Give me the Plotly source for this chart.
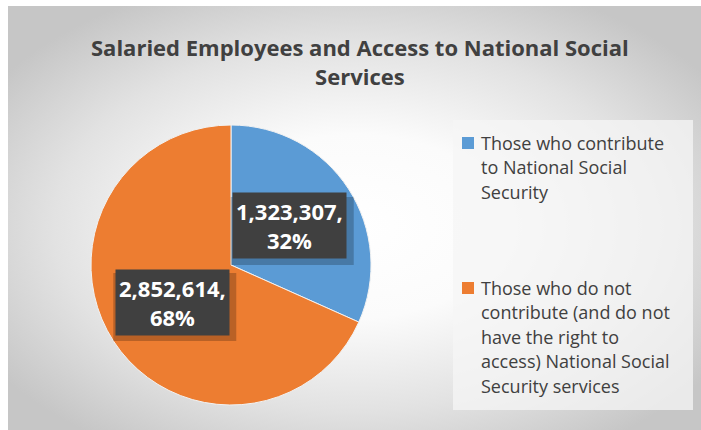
import base64
import math
import plotly.graph_objects as go

# Chart data
categories = [
    "Those who contribute to National Social Security",
    "Those who do not contribute (and do not have the right to access) National Social Security services",
]
legend_lines = [
    ["Those who contribute", "to National Social", "Security"],
    ["Those who do not", "contribute (and do not", "have the right to",
     "access) National Social", "Security services"],
]
values = [1323307, 2852614]
colors = ["#5B9BD5", "#ED7D31"]
title_text = "Salaried Employees and Access to National Social<br>Services"

W, H = 701, 430
FONT = "Open Sans"

# Pie geometry in pixels
pie_cx, pie_cy, pie_r = 231, 265, 140


def px(x):
    return x / W


def py(y):
    return 1 - y / H


# Radial gradient background for the chart area
svg = f"""<svg xmlns='http://www.w3.org/2000/svg' width='{W}' height='{H}' viewBox='0 0 {W} {H}' preserveAspectRatio='none'>
<defs><radialGradient id='g' cx='0.5' cy='0.52' r='0.62' gradientUnits='objectBoundingBox'>
<stop offset='0' stop-color='#ffffff'/>
<stop offset='0.35' stop-color='#fbfbfb'/>
<stop offset='0.7' stop-color='#e2e2e2'/>
<stop offset='1' stop-color='#c6c6c6'/>
</radialGradient></defs>
<rect x='0' y='0' width='{W}' height='{H}' fill='url(#g)'/>
</svg>"""
bg_src = "data:image/svg+xml;base64," + base64.b64encode(svg.encode()).decode()

fig = go.Figure()
fig.add_trace(
    go.Pie(
        labels=categories,
        values=values,
        marker=dict(colors=colors, line=dict(color="#f2f2f2", width=1)),
        sort=False,
        direction="clockwise",
        rotation=0,
        textinfo="none",
        hoverinfo="label+value+percent",
        showlegend=False,
        domain=dict(x=[px(pie_cx - pie_r), px(pie_cx + pie_r)],
                    y=[py(pie_cy + pie_r), py(pie_cy - pie_r)]),
    )
)

shapes = []
annotations = []

# Data labels: dark boxes at half radius along each slice's mid-angle
total = sum(values)
start = 0.0
for v in values:
    frac = v / total
    mid = (start + frac / 2) * 2 * math.pi
    start += frac
    lx = pie_cx + 0.5 * pie_r * math.sin(mid)
    ly = pie_cy - 0.5 * pie_r * math.cos(mid)
    pct = round(frac * 100)
    # soft shadow behind the label box
    shapes.append(dict(type="rect", xref="paper", yref="paper",
                       x0=px(lx - 59), x1=px(lx + 64), y0=py(ly + 38), y1=py(ly - 30),
                       fillcolor="rgba(0,0,0,0.22)", line=dict(width=0), layer="above"))
    annotations.append(dict(
        x=px(lx), y=py(ly - 1), xref="paper", yref="paper",
        text=f"<b>{v:,},<br>{pct}%</b>", showarrow=False,
        font=dict(family=FONT, size=22, color="white"),
        bgcolor="#404040", borderpad=3, align="center",
        xanchor="center", yanchor="middle",
    ))

# Legend panel
shapes.append(dict(type="rect", xref="paper", yref="paper",
                   x0=px(453), x1=px(693), y0=py(410), y1=py(120),
                   fillcolor="rgba(245,245,245,0.75)", line=dict(width=0), layer="below"))
legend_tops = [143, 288]
line_step = 24.4
for top, lines, col in zip(legend_tops, legend_lines, colors):
    shapes.append(dict(type="rect", xref="paper", yref="paper",
                       x0=px(462), x1=px(474), y0=py(top + 6), y1=py(top - 6),
                       fillcolor=col, line=dict(width=0)))
    for i, line in enumerate(lines):
        annotations.append(dict(
            x=px(479), y=py(top + i * line_step), xref="paper", yref="paper",
            text=line, showarrow=False, align="left",
            xanchor="left", yanchor="middle",
            font=dict(family=FONT, size=18, color="#404040"),
        ))

# Title
annotations.append(dict(
    x=px(360), y=py(30), xref="paper", yref="paper",
    text=f"<b>{title_text}</b>", showarrow=False, align="center",
    xanchor="center", yanchor="top",
    font=dict(family=FONT, size=22, color="#404040"),
))

fig.update_layout(
    width=W, height=H,
    margin=dict(l=0, r=0, t=0, b=0),
    paper_bgcolor="white",
    plot_bgcolor="rgba(0,0,0,0)",
    shapes=shapes,
    annotations=annotations,
    images=[dict(source=bg_src, xref="paper", yref="paper",
                 x=px(8), y=py(6), sizex=px(W - 8), sizey=(H - 6) / H,
                 xanchor="left", yanchor="top", sizing="stretch", layer="below")],
)

fig.write_html("out.html")
